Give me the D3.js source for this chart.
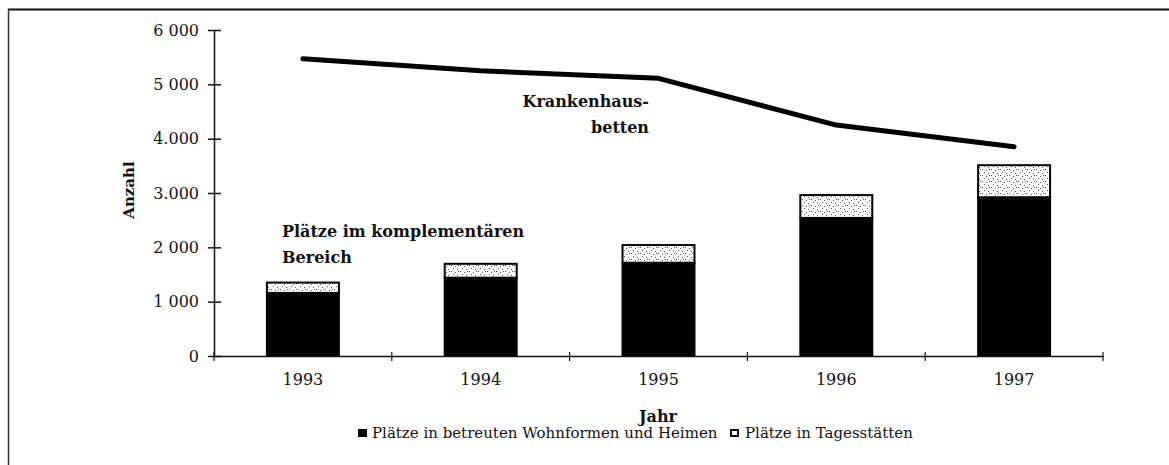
<!DOCTYPE html>
<html>
<head>
<meta charset="utf-8">
<script src="https://cdn.jsdelivr.net/npm/d3@7"></script>
<style>
  body { margin: 0; background: #fff; }
  text { font-family: "DejaVu Serif", "Liberation Serif", serif; fill: #111; }
</style>
</head>
<body>
<script>
// data
var years = ["1993", "1994", "1995", "1996", "1997"];
var wohnPlaetze = [1180, 1460, 1735, 2560, 2940];   // Plätze in betreuten Wohnformen und Heimen
var tagesPlaetze = [190, 255, 325, 420, 590];       // Plätze in Tagesstätten
var betten = [5470, 5250, 5110, 4250, 3850];        // Krankenhausbetten
var yTicks = [0, 1000, 2000, 3000, 4000, 5000, 6000];
var yTickLabels = ["0", "1 000", "2 000", "3.000", "4.000", "5 000", "6 000"];

var svg = d3.select("body").append("svg")
    .attr("width", 1169)
    .attr("height", 465);

// speckled fill for the Tagesstätten segment
var defs = svg.append("defs");
var pat = defs.append("pattern").attr("id", "speckle")
    .attr("patternUnits", "userSpaceOnUse")
    .attr("width", 9).attr("height", 6);
pat.append("rect").attr("width", 9).attr("height", 6).attr("fill", "#fff");
[[1, 1], [5, 2], [3, 4], [7, 5], [8, 1]].forEach(function (p) {
    pat.append("rect").attr("x", p[0]).attr("y", p[1])
        .attr("width", 1).attr("height", 1).attr("fill", "#555");
});

// frame (only top and left edges show in the scan)
svg.append("line").attr("x1", 8).attr("y1", 9.5).attr("x2", 1169).attr("y2", 9.5)
    .attr("stroke", "#111").attr("stroke-width", 2);
svg.append("line").attr("x1", 8.5).attr("y1", 9).attr("x2", 8.5).attr("y2", 465)
    .attr("stroke", "#333").attr("stroke-width", 1.5);

var x = d3.scaleBand().domain(years).range([214, 1103])
    .paddingInner(0.584).paddingOuter(0.292);
var y = d3.scaleLinear().domain([0, 6000]).range([356, 30]);

// y axis
var yAxis = svg.append("g").attr("transform", "translate(214,0)")
    .call(d3.axisLeft(y).tickValues(yTicks).tickSizeOuter(0)
        .tickFormat(function (d, i) { return yTickLabels[i]; }));
yAxis.select(".domain").attr("stroke", "#111").attr("stroke-width", 1.5);
yAxis.selectAll(".tick line").attr("x1", 7).attr("x2", -6)
    .attr("stroke", "#111").attr("stroke-width", 1.5);
yAxis.selectAll(".tick text").attr("x", -15)
    .style("font-size", "16px").style("font-family", "DejaVu Serif");

// stacked bars
var bars = svg.append("g");
years.forEach(function (yr, i) {
    var x0 = x(yr), w = x.bandwidth();
    bars.append("rect")
        .attr("x", x0).attr("y", y(wohnPlaetze[i]))
        .attr("width", w).attr("height", y(0) - y(wohnPlaetze[i]))
        .attr("fill", "#000");
    var top = wohnPlaetze[i] + tagesPlaetze[i];
    bars.append("rect")
        .attr("x", x0 + 1).attr("y", y(top) + 1)
        .attr("width", w - 2).attr("height", y(wohnPlaetze[i]) - y(top))
        .attr("fill", "url(#speckle)")
        .attr("stroke", "#000").attr("stroke-width", 2);
});

// x axis
var xAxis = svg.append("g").attr("transform", "translate(0,356)")
    .call(d3.axisBottom(x).tickSize(0).tickSizeOuter(0));
xAxis.select(".domain").attr("stroke", "#111").attr("stroke-width", 1.5);
xAxis.selectAll(".tick text").attr("dy", "1.6em")
    .style("font-size", "16px").style("font-family", "DejaVu Serif");
var bounds = years.map(function (d) { return x(d) - x.step() * x.paddingInner() / 2; });
bounds.push(1103);
xAxis.selectAll("line.bound").data(bounds).enter().append("line")
    .attr("class", "bound")
    .attr("x1", function (d) { return d; }).attr("x2", function (d) { return d; })
    .attr("y1", -4).attr("y2", 5)
    .attr("stroke", "#111").attr("stroke-width", 1.2);

// Krankenhausbetten line
var line = d3.line()
    .x(function (d, i) { return x(years[i]) + x.bandwidth() / 2; })
    .y(function (d) { return y(d); });
svg.append("path").datum(betten)
    .attr("d", line)
    .attr("fill", "none").attr("stroke", "#000")
    .attr("stroke-width", 5).attr("stroke-linecap", "round").attr("stroke-linejoin", "round");

// annotations
svg.append("text").attr("x", 649).attr("y", 107).attr("text-anchor", "end")
    .style("font-weight", "bold").style("font-size", "16px").text("Krankenhaus-");
svg.append("text").attr("x", 649).attr("y", 133).attr("text-anchor", "end")
    .style("font-weight", "bold").style("font-size", "16px").text("betten");
svg.append("text").attr("x", 282).attr("y", 237)
    .style("font-weight", "bold").style("font-size", "16px").text("Plätze im komplementären");
svg.append("text").attr("x", 282).attr("y", 263)
    .style("font-weight", "bold").style("font-size", "16px").text("Bereich");

// axis titles
svg.append("text").attr("transform", "translate(134,190) rotate(-90)")
    .attr("text-anchor", "middle")
    .style("font-weight", "bold").style("font-size", "15px").text("Anzahl");
svg.append("text").attr("x", 658).attr("y", 422).attr("text-anchor", "middle")
    .style("font-weight", "bold").style("font-size", "16px").text("Jahr");

// legend
var legend = svg.append("g").attr("transform", "translate(358,438)");
legend.append("rect").attr("x", 0).attr("y", -9).attr("width", 9).attr("height", 8)
    .attr("fill", "#000");
legend.append("text").attr("x", 14).attr("y", 0).style("font-size", "15px")
    .text("Plätze in betreuten Wohnformen und Heimen");
legend.append("rect").attr("x", 373).attr("y", -8).attr("width", 7).attr("height", 6)
    .attr("fill", "#fff").attr("stroke", "#000").attr("stroke-width", 2);
legend.append("text").attr("x", 387).attr("y", 0).style("font-size", "15px")
    .text("Plätze in Tagesstätten");
</script>
</body>
</html>
